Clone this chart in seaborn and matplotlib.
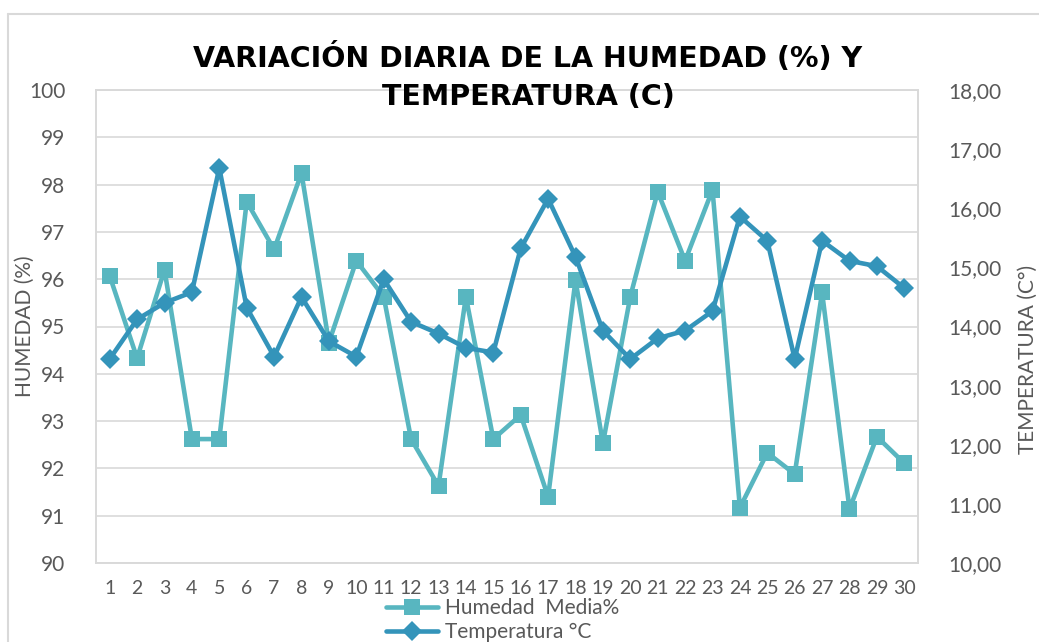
import numpy as np
import pandas as pd
import matplotlib
matplotlib.use('Agg')
import matplotlib.pyplot as plt
import seaborn as sns

# Data
dias = list(range(1, 31))
humedad = [96.07, 94.33, 96.2, 92.62, 92.62, 97.64, 96.63, 98.24, 94.66, 96.39,
           95.63, 92.62, 91.63, 95.63, 92.62, 93.13, 91.4, 95.98, 92.53, 95.63,
           97.85, 96.39, 97.89, 91.17, 92.33, 91.88, 95.72, 91.14, 92.67, 92.11]
temperatura = [13.45, 14.12, 14.40, 14.58, 16.68, 14.32, 13.49, 14.50, 13.75, 13.49,
               14.80, 14.08, 13.88, 13.64, 13.56, 15.32, 16.16, 15.18, 13.93, 13.45,
               13.80, 13.93, 14.26, 15.86, 15.45, 13.45, 15.45, 15.11, 15.02, 14.65]
hum_ticks = list(range(90, 101))
temp_ticks = [10, 11, 12, 13, 14, 15, 16, 17, 18]

df = pd.DataFrame({'Dia': dias, 'Humedad': humedad, 'Temperatura': temperatura})

sns.set_theme(style='white')
plt.rcParams['font.family'] = ['Lato', 'DejaVu Sans']

c_hum = '#58B6C0'
c_temp = '#3494BA'
grey = '#595959'
grid = '#D9D9D9'

W, H = 1039, 642
fig = plt.figure(figsize=(W / 100, H / 100), dpi=100)
ax = fig.add_axes([96 / W, (H - 563) / H, (918 - 96) / W, (563 - 90) / H])

# horizontal grid
for v in hum_ticks:
    ax.axhline(v, color=grid, lw=1.2, zorder=0)

sns.lineplot(data=df, x='Dia', y='Humedad', ax=ax, color=c_hum, lw=3.3,
             marker='s', markersize=12, markeredgewidth=0, label='Humedad  Media%',
             legend=False)
ax.set_xlim(0.5, 30.5)
ax.set_ylim(90, 100)
ax.set_yticks(hum_ticks)
ax.set_xticks(dias)
ax.set_xticklabels([str(d) for d in dias])
ax.set_xlabel('')
ax.set_ylabel('HUMEDAD (%)', color=grey, fontsize=15)
ax.yaxis.set_label_coords(-0.074, 0.5)
ax.tick_params(axis='both', length=0, colors=grey, labelsize=15)
ax.tick_params(axis='x', pad=12, labelsize=14)
ax.tick_params(axis='y', pad=22)

ax2 = ax.twinx()
sns.lineplot(data=df, x='Dia', y='Temperatura', ax=ax2, color=c_temp, lw=3.3,
             marker='D', markersize=10, markeredgewidth=0, label='Temperatura °C',
             legend=False)
ax2.set_ylim(10, 18)
ax2.set_yticks(temp_ticks)
ax2.set_yticklabels([f'{t:.2f}'.replace('.', ',') for t in temp_ticks])
ax2.set_ylabel('TEMPERATURA (C°)', color=grey, fontsize=15)
ax2.yaxis.set_label_coords(1.121, 0.43)
ax2.tick_params(axis='y', length=0, colors=grey, labelsize=15, pad=22)
ax2.grid(False)

for a in (ax, ax2):
    for s in a.spines.values():
        s.set_color(grid)
        s.set_linewidth(1.2)

# title
fig.text(528 / W, 1 - 58 / H, 'VARIACIÓN DIARIA DE LA HUMEDAD (%) Y', ha='center', va='center',
         fontsize=20.5, fontweight='bold', color='black', family=['DejaVu Sans'])
fig.text(528 / W, 1 - 97 / H, 'TEMPERATURA (C)', ha='center', va='center',
         fontsize=20.5, fontweight='bold', color='black', family=['DejaVu Sans'])

# legend
h1, l1 = ax.get_legend_handles_labels()
h2, l2 = ax2.get_legend_handles_labels()
fig.legend(h1 + h2, l1 + l2, loc='upper left', bbox_to_anchor=(386 / W, 1 - 598 / H),
           frameon=False, fontsize=15, handlelength=2.5, handletextpad=0.35,
           labelspacing=0.2, labelcolor=grey, borderpad=0, borderaxespad=0)

# outer chart frame
fig.add_artist(plt.Line2D([8 / W, 8 / W], [0, 1 - 14 / H], color=grid, lw=1.5))
fig.add_artist(plt.Line2D([8 / W, 1], [1 - 14 / H, 1 - 14 / H], color=grid, lw=1.5))

fig.savefig('out.png', dpi=100)
